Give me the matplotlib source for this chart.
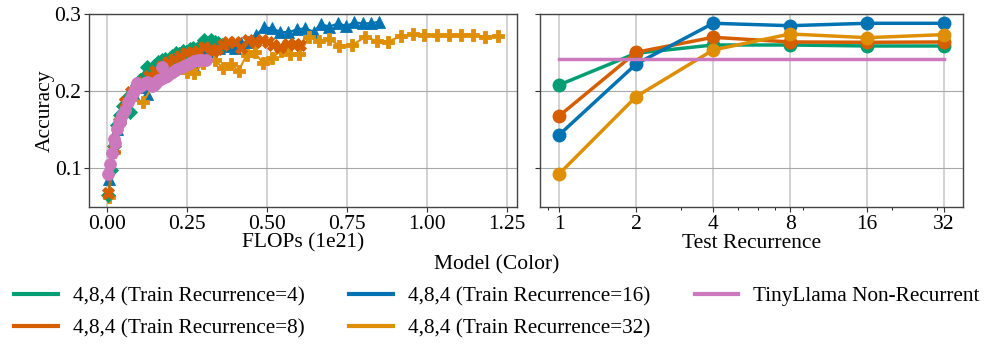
import matplotlib
matplotlib.use("Agg")
import matplotlib.pyplot as plt
from matplotlib.ticker import FixedLocator, NullFormatter, LogLocator

plt.rcParams['font.family'] = ['Liberation Serif', 'DejaVu Serif']
plt.rcParams['font.size'] = 15.5

C_GREEN = '#029e73'
C_RED = '#d55e00'
C_BLUE = '#0173b2'
C_ORANGE = '#de8f05'
C_PINK = '#cc78bc'

labels = ['4,8,4 (Train Recurrence=4)', '4,8,4 (Train Recurrence=8)',
          '4,8,4 (Train Recurrence=16)', '4,8,4 (Train Recurrence=32)',
          'TinyLlama Non-Recurrent']

# ---- Left panel: accuracy vs FLOPs (1e21) ----
rec4_flops = [0.004, 0.012, 0.021, 0.03, 0.04, 0.05, 0.06, 0.071, 0.082, 0.093, 0.104, 0.115,
              0.126, 0.137, 0.148, 0.159, 0.17, 0.181, 0.192, 0.203, 0.214, 0.225, 0.236, 0.247,
              0.258, 0.27, 0.281, 0.292, 0.303, 0.314, 0.325, 0.336, 0.347, 0.358]
rec4_acc = [0.064, 0.097, 0.128, 0.155, 0.168, 0.18, 0.19, 0.172, 0.2, 0.208, 0.214, 0.218,
            0.231, 0.226, 0.233, 0.237, 0.24, 0.242, 0.238, 0.246, 0.249, 0.248, 0.252, 0.25,
            0.255, 0.256, 0.254, 0.259, 0.266, 0.262, 0.266, 0.263, 0.262, 0.26]

rec8_flops = [0.004, 0.02, 0.038, 0.056, 0.075, 0.094, 0.113, 0.132, 0.151, 0.17, 0.189, 0.208,
              0.227, 0.246, 0.265, 0.285, 0.304, 0.33, 0.345, 0.362, 0.378, 0.399, 0.42, 0.441,
              0.462, 0.483, 0.504, 0.52, 0.541, 0.567, 0.588, 0.604]
rec8_acc = [0.067, 0.125, 0.16, 0.185, 0.198, 0.205, 0.212, 0.22, 0.226, 0.232, 0.238, 0.242,
            0.246, 0.249, 0.25, 0.252, 0.2575, 0.252, 0.255, 0.26, 0.264, 0.264, 0.2555, 0.266,
            0.264, 0.266, 0.264, 0.26, 0.2575, 0.2607, 0.2607, 0.26]

rec16_flops = [0.005, 0.031, 0.057, 0.083, 0.109, 0.125, 0.15, 0.175, 0.2, 0.225, 0.25, 0.273,
               0.3, 0.325, 0.35, 0.375, 0.399, 0.42, 0.441, 0.467, 0.491, 0.515, 0.541, 0.567,
               0.593, 0.62, 0.646, 0.67, 0.695, 0.723, 0.748, 0.774, 0.801, 0.825, 0.851]
rec16_acc = [0.085, 0.15, 0.178, 0.195, 0.205, 0.196, 0.222, 0.232, 0.238, 0.242, 0.246, 0.2316,
             0.248, 0.252, 0.256, 0.258, 0.2555, 0.262, 0.264, 0.2727, 0.2827, 0.2814, 0.277, 0.2762,
             0.28, 0.2814, 0.277, 0.287, 0.2835, 0.288, 0.2844, 0.289, 0.288, 0.288, 0.29]

rec32_flops = [0.005, 0.02, 0.04, 0.075, 0.113, 0.15, 0.19, 0.225, 0.251, 0.273, 0.30, 0.338,
               0.362, 0.388, 0.411, 0.437, 0.462, 0.488, 0.515, 0.543, 0.572, 0.601, 0.632, 0.664,
               0.695, 0.727, 0.767, 0.806, 0.843, 0.880, 0.919, 0.956, 0.993, 1.032, 1.070, 1.107,
               1.144, 1.183, 1.222]
rec32_acc = [0.062, 0.12, 0.16, 0.19, 0.186, 0.212, 0.222, 0.232, 0.225, 0.223, 0.236, 0.240,
             0.2295, 0.2345, 0.226, 0.247, 0.250, 0.236, 0.2425, 0.252, 0.248, 0.2476, 0.2705, 0.265,
             0.267, 0.259, 0.2597, 0.2697, 0.2654, 0.264, 0.2714, 0.274, 0.2732, 0.2723, 0.2723, 0.2727,
             0.2732, 0.2705, 0.271]

llama_flops = [0.004, 0.01, 0.015, 0.02, 0.023, 0.03, 0.036, 0.04, 0.047, 0.057, 0.065, 0.073,
               0.08, 0.088, 0.094, 0.1, 0.11, 0.118, 0.125, 0.133, 0.14, 0.146, 0.153, 0.16,
               0.167, 0.173, 0.18, 0.188, 0.199, 0.21, 0.22, 0.233, 0.246, 0.258, 0.272, 0.283,
               0.294, 0.309]
llama_acc = [0.092, 0.105, 0.119, 0.138, 0.132, 0.15, 0.159, 0.16, 0.168, 0.175, 0.185, 0.1926,
             0.197, 0.203, 0.21, 0.205, 0.208, 0.21, 0.212, 0.21, 0.207, 0.208, 0.21, 0.214,
             0.216, 0.2316, 0.218, 0.22, 0.223, 0.226, 0.229, 0.231, 0.234, 0.236, 0.239, 0.24,
             0.240, 0.240]

# ---- Right panel: accuracy vs test recurrence ----
test_rec = [1, 2, 4, 8, 16, 32]
rec4_test = [0.2078, 0.249, 0.2597, 0.2597, 0.2584, 0.2584]
rec8_test = [0.1675, 0.2502, 0.2697, 0.2636, 0.2632, 0.2636]
rec16_test = [0.1429, 0.235, 0.2879, 0.2848, 0.2879, 0.2879]
rec32_test = [0.0922, 0.1926, 0.2532, 0.274, 0.2692, 0.2732]
llama_test = 0.242

fig = plt.figure(figsize=(9.97, 3.49), dpi=100)
ax1 = fig.add_axes([0.0893, 0.4069, 0.4293, 0.553])
ax2 = fig.add_axes([0.5416, 0.4069, 0.4246, 0.553], sharey=ax1)

left_series = [
    (rec16_flops, rec16_acc, C_BLUE, '^', 8.5),
    (rec32_flops, rec32_acc, C_ORANGE, 'P', 8.5),
    (rec4_flops, rec4_acc, C_GREEN, 'D', 7),
    (rec8_flops, rec8_acc, C_RED, 'X', 8.5),
    (llama_flops, llama_acc, C_PINK, 'o', 8.5),
]
for xs, ys, c, m, ms in left_series:
    ax1.plot(xs, ys, color=c, marker=m, markersize=ms, lw=1.5,
             markeredgewidth=0.6, markeredgecolor=c)

right_series = [
    (rec4_test, C_GREEN), (rec8_test, C_RED), (rec16_test, C_BLUE), (rec32_test, C_ORANGE)
]
for ys, c in right_series:
    ax2.plot(test_rec, ys, color=c, marker='o', markersize=9, lw=2.5)
ax2.plot([test_rec[0], test_rec[-1]], [llama_test, llama_test], color=C_PINK, lw=2.5)

ax2.set_xscale('log')
ax2.xaxis.set_major_locator(FixedLocator(test_rec))
ax2.set_xticklabels([str(v) for v in test_rec])
ax2.xaxis.set_minor_locator(LogLocator(base=10, subs=range(2, 10)))
ax2.xaxis.set_minor_formatter(NullFormatter())

ax1.set_ylim(0.049, 0.3)
ax1.set_yticks([0.1, 0.2, 0.3])
ax1.set_xticks([0.0, 0.25, 0.5, 0.75, 1.0, 1.25])
ax1.set_xticklabels(['0.00', '0.25', '0.50', '0.75', '1.00', '1.25'])
plt.setp(ax2.get_yticklabels(), visible=False)

for ax in (ax1, ax2):
    ax.xaxis.grid(True, color='#cfcfcf', lw=1.3)
    ax.yaxis.grid(True, color='#a8a8a8', lw=0.8)
    ax.set_axisbelow(True)
    for s in ax.spines.values():
        s.set_color('#444444')
        s.set_linewidth(1.0)
    ax.tick_params(direction='out', length=3.5, width=0.8, color='#333333', pad=2)
    ax.tick_params(which='minor', length=2, width=0.6)

ax1.set_xlabel('FLOPs (1e21)', labelpad=0)
ax1.set_ylabel('Accuracy', labelpad=0)
ax2.set_xlabel('Test Recurrence', labelpad=0)

colors = [C_GREEN, C_RED, C_BLUE, C_ORANGE, C_PINK]
handles = [plt.Line2D([], [], color=c, lw=3) for c in colors]
fig.legend(handles, labels, loc='upper center', bbox_to_anchor=(0.4985, 0.287), ncol=3,
           frameon=False, title='Model (Color)', handlelength=2.05, columnspacing=2.1,
           handletextpad=0.7, labelspacing=0.56, title_fontsize=15.5, borderaxespad=0,
           borderpad=0.3, prop={'size': 15.3})

fig.savefig('out.png', dpi=100)
